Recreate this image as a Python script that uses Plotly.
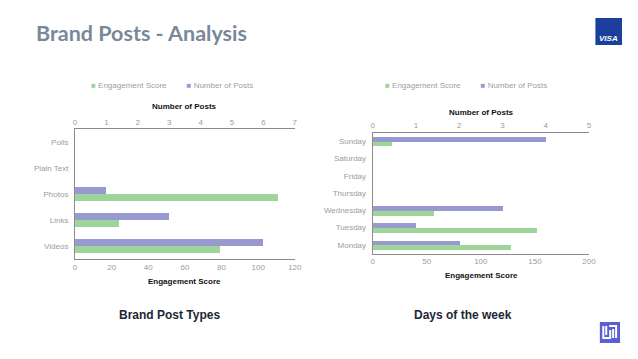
import plotly.graph_objects as go

# ---- data ----
post_types = ["Videos", "Links", "Photos", "Plain Text", "Polls"]
type_engagement = [79, 24, 111, 0, 0]
type_posts = [6, 3, 1, 0, 0]

days = ["Monday", "Tuesday", "Wednesday", "Thursday", "Friday", "Saturday", "Sunday"]
day_engagement = [128, 152, 56, 0, 0, 0, 18]
day_posts = [2, 1, 3, 0, 0, 0, 4]

eng_ticks_left = [0, 20, 40, 60, 80, 100, 120]
post_ticks_left = [0, 1, 2, 3, 4, 5, 6, 7]
eng_ticks_right = [0, 50, 100, 150, 200]
post_ticks_right = [0, 1, 2, 3, 4, 5]

GREEN = "#9dd59b"
PURPLE = "#9899cf"
# page body has an 8px margin on every side; size the figure so the page fits the window
OFF = 8
W = 638 - 2 * OFF
H = 359 - 2 * OFF
BW = 0.28


def fx(px):
    return (px - OFF) / W


def fy(py):
    return 1 - (py - OFF) / H


fig = go.Figure()

fig.add_trace(go.Bar(y=post_types, x=type_engagement, orientation="h", name="Engagement Score",
                     marker=dict(color=GREEN, line=dict(width=0)), width=BW, offset=-BW,
                     xaxis="x", yaxis="y", showlegend=False))
fig.add_trace(go.Bar(y=post_types, x=type_posts, orientation="h", name="Number of Posts",
                     marker=dict(color=PURPLE, line=dict(width=0)), width=BW, offset=0,
                     xaxis="x2", yaxis="y", showlegend=False))
fig.add_trace(go.Bar(y=days, x=day_engagement, orientation="h", name="Engagement Score",
                     marker=dict(color=GREEN, line=dict(width=0)), width=BW, offset=-BW,
                     xaxis="x3", yaxis="y2", showlegend=False))
fig.add_trace(go.Bar(y=days, x=day_posts, orientation="h", name="Number of Posts",
                     marker=dict(color=PURPLE, line=dict(width=0)), width=BW, offset=0,
                     xaxis="x4", yaxis="y2", showlegend=False))

FONT = "Liberation Sans, Arial, sans-serif"
tickfont = dict(family=FONT, size=8, color="#9c9c9c")
axline = dict(showline=True, linecolor="#8c8c8c", linewidth=1, showgrid=False,
              zeroline=False, ticks="", tickfont=tickfont)

fig.update_layout(
    width=W, height=H, margin=dict(l=0, r=0, t=0, b=0),
    paper_bgcolor="white", plot_bgcolor="white",
    barmode="overlay", bargap=0, showlegend=False,
    xaxis=dict(domain=[fx(74), fx(297)], anchor="y", range=[0, 120], tickvals=eng_ticks_left, **axline),
    xaxis2=dict(overlaying="x", side="top", anchor="y", range=[0, 7], tickvals=post_ticks_left, **axline),
    yaxis=dict(domain=[fy(259), fy(129)], anchor="x", categoryorder="array", categoryarray=post_types,
               range=[-0.5, len(post_types) - 0.5], ticklabelstandoff=4, **axline),
    xaxis3=dict(domain=[fx(376), fx(595.5)], anchor="y2", range=[0, 200], tickvals=eng_ticks_right, **axline),
    xaxis4=dict(overlaying="x3", side="top", anchor="y2", range=[0, 5], tickvals=post_ticks_right, **axline),
    yaxis2=dict(domain=[fy(253.5), fy(132.5)], anchor="x3", categoryorder="array", categoryarray=days,
                range=[-0.5, len(days) - 0.5], ticklabelstandoff=4, **axline),
)

axis_title_font = dict(family=FONT, size=8, color="#111111")
ann = []


def add_text(x, y, text, font, xanchor="center"):
    ann.append(dict(x=fx(x), y=fy(y), xref="paper", yref="paper", text=text, showarrow=False,
                    xanchor=xanchor, yanchor="middle", font=font, borderpad=0))


add_text(185, 281, "<b>Engagement Score</b>", axis_title_font)
add_text(185, 107, "<b>Number of Posts</b>", axis_title_font)
add_text(486, 275, "<b>Engagement Score</b>", axis_title_font)
add_text(486, 112, "<b>Number of Posts</b>", axis_title_font)

legend_font = dict(family=FONT, size=8, color="#a0a0a0")


def legend_text():
    return (f"<span style='color:{GREEN}'>■</span> Engagement Score         "
            f"<span style='color:{PURPLE}'>■</span> Number of Posts")


add_text(172, 85, legend_text(), legend_font)
add_text(471, 85, legend_text(), legend_font)

add_text(33, 33, "<b>Brand Posts - Analysis</b>",
         dict(family="Lato, sans-serif", size=21.5, color="#7a8899"), xanchor="left")
sub_font = dict(family=FONT, size=12, color="#1d2636")
add_text(170, 315, "<b>Brand Post Types</b>", sub_font)
add_text(468, 315, "<b>Days of the week</b>", sub_font)

add_text(615.5, 39, "<b><i>VISA</i></b>", dict(family=FONT, size=8, color="white"))
fig.update_layout(annotations=ann)

shapes = [
    dict(type="rect", xref="paper", yref="paper", x0=fx(602), x1=fx(629), y0=fy(45), y1=fy(18),
         fillcolor="#1b3f9c", line=dict(width=0), layer="below"),
    dict(type="rect", xref="paper", yref="paper", x0=fx(606.5), x1=fx(627), y0=fy(343), y1=fy(322),
         fillcolor="#5a5fd3", line=dict(width=0), layer="below"),
    dict(type="path", xref="paper", yref="paper",
         path=" ".join([
             f"M {fx(610)},{fy(326)} L {fx(610)},{fy(338)} L {fx(617)},{fy(338)} L {fx(617)},{fy(330)}",
             f"M {fx(613)},{fy(326)} L {fx(613)},{fy(335)}",
             f"M {fx(616)},{fy(326)} L {fx(623)},{fy(326)} L {fx(623)},{fy(338)}",
             f"M {fx(620)},{fy(329)} L {fx(620)},{fy(338)}",
         ]),
         line=dict(color="white", width=2)),
]
fig.update_layout(shapes=shapes)

fig.write_html("out.html")
